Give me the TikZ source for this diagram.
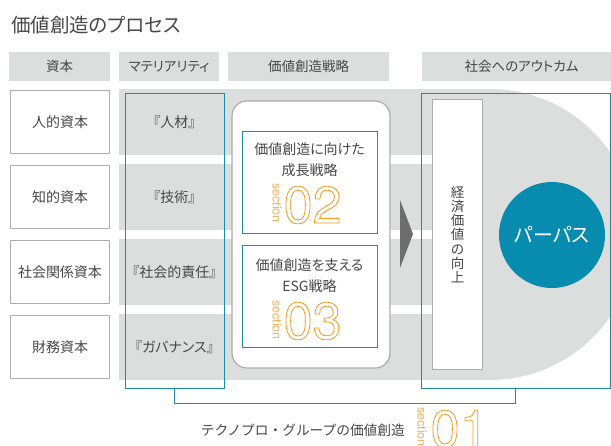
\documentclass[tikz,border=0pt]{standalone}
\usepackage{fontspec}
\setmainfont[RawFeature=+palt]{Noto Sans CJK JP}
\newfontfamily\fullwidth{Noto Sans CJK JP}
\newfontfamily\numfont{TeX Gyre Heros}
\usetikzlibrary{positioning, arrows}

\definecolor{bandgrey}{HTML}{DCDDDD}
\definecolor{boxgrey}{HTML}{ADADAD}
\definecolor{tpblue}{HTML}{1A8DB3}
\definecolor{purposeblue}{HTML}{078CAF}
\definecolor{secorange}{HTML}{F39A1E}
\definecolor{seclight}{HTML}{F5B35A}
\definecolor{inkgrey}{HTML}{474747}
\definecolor{arrowgrey}{HTML}{6E6E6E}

% hollow (outlined) glyphs
\newcommand\hollow[1]{\special{pdf:literal direct 1 Tr 0.8 w}#1\special{pdf:literal direct 0 Tr}}

\tikzset{
  x=1pt, y=-1pt, node distance=10.8pt, inner sep=0pt, text=inkgrey,
  header/.style={fill=bandgrey, minimum height=29pt, font=\fontsize{13.5}{16}\selectfont},
  capbox/.style={draw=boxgrey, line width=1.2pt, fill=white, minimum width=99pt,
    minimum height=63pt, font=\fontsize{14}{16}\selectfont},
  band/.style={fill=bandgrey, minimum width=313pt, minimum height=66pt},
  material/.style={font=\fontsize{14}{16}\selectfont},
  blueframe/.style={draw=tpblue, line width=1pt},
  secbox/.style={blueframe, fill=white, minimum width=135pt, minimum height=102pt},
  sectitle/.style={align=center, font=\fontsize{14}{21}\selectfont},
  seclabel/.style={rotate=-90, text=seclight, font=\numfont\fontsize{12.5}{14}\selectfont},
  secnum/.style={anchor=west, text=secorange, font=\numfont\fontsize{52}{52}\selectfont}
}

\begin{document}
\begin{tikzpicture}
  \useasboundingbox (0,0) rectangle (611,445);

  \node[anchor=west, font=\fontsize{19.5}{22}\selectfont] (title) at (11,25) {価値創造のプロセス};

  % column headers
  \node[header, minimum width=101pt] (hcap) at (59.5,66.5) {資本};
  \node[header, minimum width=100pt] (hmat) at (169,66.5) {マテリアリティ};
  \node[header, minimum width=161pt] (hstr) at (308.5,66.5) {価値創造戦略};
  \node[header, minimum width=199pt] (hout) at (521.5,66.5) {社会へのアウトカム};

  % capitals
  \node[capbox] (human) at (60,122) {人的資本};
  \node[capbox, below = of human] (intel) {知的資本};
  \node[capbox, below = of intel] (social) {社会関係資本};
  \node[capbox, below = of social] (finance) {財務資本};

  % grey bands
  \node[band, right = 8.8pt of human] (bhuman) {};
  \node[band, right = 8.8pt of intel] (bintel) {};
  \node[band, right = 8.8pt of social] (bsocial) {};
  \node[band, right = 8.8pt of finance] (bfinance) {};
  \begin{scope}
    \clip (432,0) rectangle (611,445);
    \fill[bandgrey] (432,89) rectangle (490,380);
    \fill[bandgrey] (490,234.5) circle (145.5);
  \end{scope}

  % materiality
  \node[material] at ([xshift=55.5pt]bhuman.west) {『人材』};
  \node[material] at ([xshift=55.5pt]bintel.west) {『技術』};
  \node[material] at ([xshift=55.5pt]bsocial.west) {『社会的責任』};
  \node[material] at ([xshift=55.5pt]bfinance.west) {『ガバナンス』};
  \node[blueframe, minimum width=99pt, minimum height=295pt] (matframe) at (174.5,240.5) {};

  % strategy
  \node[draw=boxgrey, line width=1.2pt, fill=white, rounded corners=15pt,
    minimum width=158pt, minimum height=267pt] (strategy) at (311,234.5) {};
  \node[secbox] (growth) at (309.5,182) {};
  \node[sectitle] (growthtext) at (309.5,159.5) {価値創造に向けた\\成長戦略};
  \node[seclabel] (sec2) at (277,203) {section};
  \node[secnum] (num2) at (283.5,205) {\hollow{02}};

  \node[secbox] (esg) at (309.5,296) {};
  \node[sectitle] (esgtext) at (309.5,276) {価値創造を支える\\ESG戦略};
  \node[seclabel] (sec3) at (277,320) {section};
  \node[secnum] (num3) at (283.5,321) {\hollow{03}};

  \fill[arrowgrey] (400,200) -- (413,234) -- (400,268) -- cycle;

  % outcome
  \node[blueframe, minimum width=189pt, minimum height=295pt] (outcome) at (515.5,240.5) {};
  \node[draw=boxgrey, line width=1.2pt, fill=white, minimum width=50pt, minimum height=270pt,
    align=center, font=\fontsize{13.5}{14.3}\selectfont] (economic) at (457.5,234.5)
    {経\\済\\価\\値\\の\\向\\上};
  \node[circle, fill=purposeblue, minimum size=106pt, text=white,
    font=\fontsize{20}{22}\selectfont] (purpose) at (552,235) {パーパス};

  % whole process
  \draw[blueframe] (matframe.south) -- ++(0,15) -| (outcome.south);
  \node[anchor=east, font=\fullwidth\fontsize{13.7}{16}\selectfont] (groupvalue) at (405,430) {テクノプロ・グループの価値創造};
  \node[seclabel] (sec1) at (422,427) {section};
  \node[secnum] (num1) at (430.5,429) {\hollow{01}};
\end{tikzpicture}
\end{document}
